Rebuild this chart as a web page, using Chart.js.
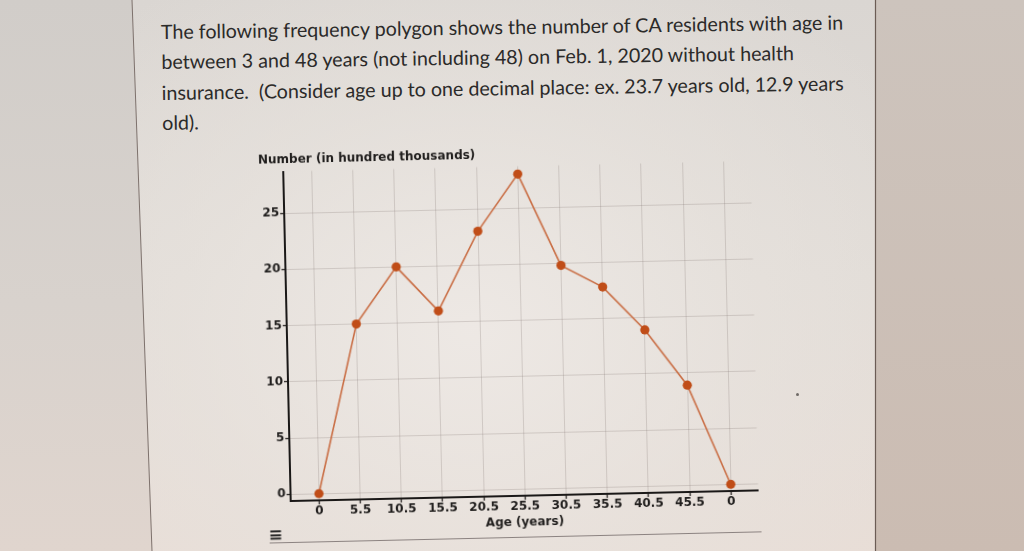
<!DOCTYPE html>
<html>
<head>
<meta charset="utf-8">
<script src="https://cdn.jsdelivr.net/npm/chart.js@4.4.1/dist/chart.umd.min.js"></script>
<style>
  html, body { margin: 0; padding: 0; }
  body {
    width: 1024px; height: 551px; overflow: hidden; position: relative;
    background: linear-gradient(180deg, #d1cdc9 0%, #d8d2cd 55%, #e0d5ce 100%);
  }
  #rightSide {
    position: absolute; left: 876px; top: 0; width: 148px; height: 551px;
    background: linear-gradient(180deg, #cdc4bd 0%, #cbbcb2 100%);
  }
  #panel {
    position: absolute; left: 0; top: 0; width: 1024px; height: 551px;
    clip-path: polygon(132px 0, 876px 0, 876px 551px, 152px 551px);
    background:
      radial-gradient(ellipse 520px 420px at 470px 330px, rgba(238,233,229,0.95) 0%, rgba(232,227,222,0.6) 55%, rgba(232,227,222,0) 100%),
      linear-gradient(180deg, #dad6d2 0%, #e1dcd7 50%, #e8ddd6 100%);
  }
  #borders { position: absolute; left: 0; top: 0; }
  #text {
    position: absolute; left: 161px; top: 17px;
    font-family: Lato, "Open Sans", sans-serif; color: #2b2a29;
    line-height: 30.4px; white-space: pre;
    transform: rotate(-0.8deg); transform-origin: 0 24px;
  }
  #wrap {
    position: absolute; left: 230px; top: 130px; width: 560px; height: 420px;
    transform: rotate(-1.3deg); transform-origin: 280px 205px;
  }
  #chart { position: absolute; left: 0; top: 0; }
  #menu {
    position: absolute; left: 34px; top: 389px;
    font-family: "DejaVu Sans", sans-serif; font-size: 17px; font-weight: bold; color: #2a2a2a;
  }
  #rule {
    position: absolute; left: 35px; top: 407px; width: 492px; height: 0;
    border-top: 1px solid #8b8280;
  }
  #speck {
    position: absolute; left: 796px; top: 393px; width: 3px; height: 3px;
    border-radius: 50%; background: #6f6a66;
  }
</style>
</head>
<body>
<div id="rightSide"></div>
<div id="panel"></div>
<svg id="borders" width="1024" height="551">
  <line x1="132" y1="0" x2="152" y2="551" stroke="#7d716c" stroke-width="1"/>
  <line x1="875.5" y1="0" x2="875.5" y2="551" stroke="#6b5c55" stroke-width="1.2"/>
</svg>
<div id="text"></div>
<div id="speck"></div>
<div id="wrap">
  <canvas id="chart" width="560" height="410"></canvas>
  <div id="menu">≡</div>
  <div id="rule"></div>
</div>
<script>
// ---- Data ----
const paragraphLines = [
  "The following frequency polygon shows the number of CA residents with age in",
  "between 3 and 48 years (not including 48) on Feb. 1, 2020 without health",
  "insurance.  (Consider age up to one decimal place: ex. 23.7 years old, 12.9 years",
  "old)."
];
const ageLabels = ["0", "5.5", "10.5", "15.5", "20.5", "25.5", "30.5", "35.5", "40.5", "45.5", "0"];
const counts = [0, 15, 20, 16, 23, 28, 19.8, 17.8, 13.9, 8.9, 0];
const yTickValues = [0, 5, 10, 15, 20, 25];
const yTitle = "Number (in hundred thousands)";
const xTitle = "Age (years)";

// ---- Paragraph text (fit first line width) ----
const textEl = document.getElementById('text');
textEl.textContent = paragraphLines.join("\n");
(function fitText() {
  const c = document.createElement('canvas').getContext('2d');
  c.font = '100px Lato';
  const w = c.measureText(paragraphLines[0]).width;
  const size = Math.max(14, Math.min(24, 685 / w * 100));
  textEl.style.fontSize = size.toFixed(2) + 'px';
})();

// ---- Chart ----
const axisFont = { family: "'DejaVu Sans', Verdana, sans-serif", size: 12, weight: 'bold', lineHeight: 1.2 };
const inkColor = '#1f1d1c';
const gridColor = 'rgba(120, 108, 104, 0.24)';

const points = counts.map((v, i) => ({ x: i, y: v }));

new Chart(document.getElementById('chart'), {
  type: 'line',
  data: {
    datasets: [{
      data: points,
      borderColor: '#c96e45',
      borderWidth: 1.6,
      pointRadius: 4.6,
      pointHoverRadius: 4.6,
      pointBackgroundColor: '#c04d18',
      pointBorderColor: '#c04d18',
      pointBorderWidth: 0,
      tension: 0,
      clip: false
    }]
  },
  options: {
    responsive: false,
    animation: false,
    devicePixelRatio: 1,
    events: [],
    layout: { padding: { left: 32, right: 35.5, top: 0, bottom: 10.4 } },
    plugins: {
      legend: { display: false },
      tooltip: { enabled: false },
      title: {
        display: true,
        text: yTitle,
        align: 'start',
        color: inkColor,
        font: axisFont,
        padding: { top: 17.6, bottom: 4.5 }
      }
    },
    scales: {
      x: {
        type: 'linear',
        bounds: 'data',
        min: -0.69,
        max: 10.66,
        afterBuildTicks: (s) => { s.ticks = ageLabels.map((_, i) => ({ value: i })); },
        afterFit: (s) => { s.height = 33.6; },
        ticks: {
          autoSkip: false,
          maxRotation: 0,
          minRotation: 0,
          padding: 0,
          color: inkColor,
          font: axisFont,
          callback: (v) => ageLabels[v]
        },
        grid: { color: gridColor, lineWidth: 1, drawTicks: true, tickLength: 4, tickColor: '#2a2725', tickWidth: 1.3 },
        border: { display: true, color: '#1a1817', width: 2 },
        title: { display: true, text: xTitle, color: inkColor, font: axisFont, padding: { top: 0, bottom: 0 } }
      },
      y: {
        type: 'linear',
        bounds: 'data',
        min: -0.6,
        max: 28.7,
        afterBuildTicks: (s) => { s.ticks = yTickValues.map((v) => ({ value: v })); },
        afterFit: (s) => { s.width = 25; },
        ticks: { padding: 1, color: inkColor, font: axisFont, callback: (v) => String(v) },
        grid: { color: gridColor, lineWidth: 1, drawTicks: true, tickLength: 4, tickColor: '#2a2725', tickWidth: 1.3 },
        border: { display: true, color: '#1a1817', width: 2 }
      }
    }
  }
});
</script>
</body>
</html>
